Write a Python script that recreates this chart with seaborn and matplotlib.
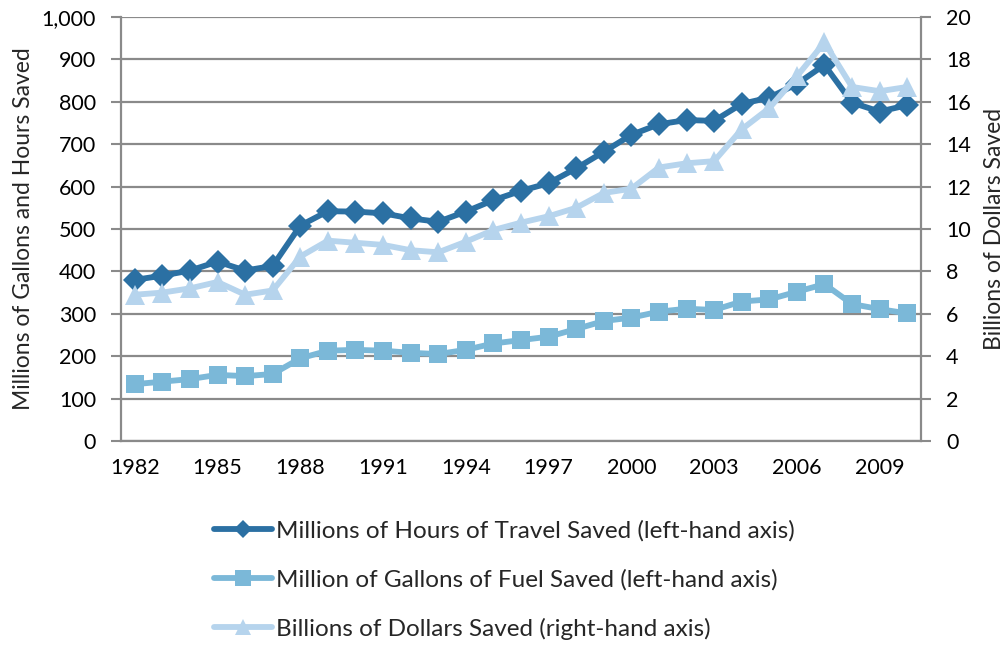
import matplotlib
matplotlib.use("Agg")
import matplotlib.pyplot as plt
import numpy as np
import pandas as pd
import seaborn as sns
from matplotlib.lines import Line2D

years = list(range(1982, 2011))
hours = [380, 390, 402, 423, 402, 413, 508, 542, 541, 537, 525, 517, 541, 568,
         590, 608, 643, 682, 722, 747, 757, 755, 795, 810, 842, 887, 798, 777, 792]
fuel = [134, 140, 146, 156, 153, 158, 195, 213, 215, 213, 208, 205, 215, 230,
        238, 246, 264, 283, 291, 305, 312, 309, 329, 334, 352, 370, 323, 311, 301]
dollars = [6.9, 7.0, 7.2, 7.5, 6.9, 7.1, 8.7, 9.45, 9.35, 9.25, 9.0, 8.9, 9.4, 9.95,
           10.3, 10.6, 11.0, 11.7, 11.9, 12.9, 13.1, 13.2, 14.7, 15.7, 17.2, 18.8,
           16.7, 16.5, 16.7]
series_labels = ["Millions of Hours of Travel Saved (left-hand axis)",
                 "Million of Gallons of Fuel Saved (left-hand axis)",
                 "Billions of Dollars Saved (right-hand axis)"]
left_label = "Millions of Gallons and Hours Saved"
right_label = "Billions of Dollars Saved"

c_hours = "#2B70A3"
c_fuel = "#7BB8D8"
c_dollars = "#B6D4ED"
grid_c = "#8A8A8A"

sns.set_theme(style="white")
plt.rcParams["font.family"] = ["Lato", "DejaVu Sans"]

df = pd.DataFrame({"idx": np.arange(len(years)), "year": years,
                   "hours": hours, "fuel": fuel, "dollars": dollars})

fig = plt.figure(figsize=(10.08, 6.45), dpi=100)
ax = fig.add_axes([121 / 1008, 1 - 441 / 645, 800 / 1008, 424 / 645])
ax2 = ax.twinx()

sns.lineplot(data=df, x="idx", y="hours", ax=ax, color=c_hours, lw=4.2,
             marker="D", markersize=12, markeredgewidth=0, zorder=4)
sns.lineplot(data=df, x="idx", y="fuel", ax=ax, color=c_fuel, lw=4.2,
             marker="s", markersize=13.5, markeredgewidth=0, zorder=3)
sns.lineplot(data=df, x="idx", y="dollars", ax=ax2, color=c_dollars, lw=4.2,
             marker="^", markersize=14, markeredgewidth=0, zorder=3)

ax.set_xlim(-0.5, len(years) - 0.5)
ax.set_ylim(0, 1000)
ax2.set_ylim(0, 20)

ax.set_yticks(np.arange(0, 1001, 100))
ax.set_yticklabels([f"{v:,}" for v in range(0, 1001, 100)])
ax2.set_yticks(np.arange(0, 21, 2))
ax2.set_yticklabels([str(v) for v in range(0, 21, 2)])

fs_tick = 15.5
major = np.arange(0, len(years), 3)
ax.set_xticks(major)
ax.set_xticklabels([str(years[i]) for i in major])
ax.set_xticks(np.arange(-0.5, len(years), 1), minor=True)
ax.tick_params(axis="x", which="major", length=0, pad=12, labelsize=fs_tick, colors="black")
ax.tick_params(axis="x", which="minor", length=6, width=1.5, color=grid_c, direction="out")
ax.tick_params(axis="y", length=7, width=1.5, color=grid_c, pad=11, labelsize=fs_tick, labelcolor="black")
ax2.tick_params(axis="y", length=7, width=1.5, color=grid_c, pad=11, labelsize=fs_tick, labelcolor="black")

ax.grid(axis="y", color=grid_c, lw=1.6)
ax.grid(axis="x", visible=False)
ax.set_axisbelow(True)

for a in (ax, ax2):
    for s in a.spines.values():
        s.set_visible(False)
ax.spines["left"].set_visible(True)
ax.spines["bottom"].set_visible(True)
ax2.spines["right"].set_visible(True)
for s in (ax.spines["left"], ax.spines["bottom"], ax2.spines["right"]):
    s.set_color(grid_c)
    s.set_linewidth(1.6)

ax.set_xlabel("")
ax.set_ylabel(left_label, fontsize=16.5)
ax2.set_ylabel(right_label, fontsize=16.5, rotation=90)
ax.yaxis.set_label_coords((34 - 121) / 800, 0.5)
ax2.yaxis.set_label_coords((984 - 121) / 800, 0.5)

handles = [
    Line2D([], [], color=c_hours, lw=4.2, marker="D", markersize=9, markeredgewidth=0),
    Line2D([], [], color=c_fuel, lw=4.2, marker="s", markersize=11, markeredgewidth=0),
    Line2D([], [], color=c_dollars, lw=4.2, marker="^", markersize=11, markeredgewidth=0),
]
fig.legend(handles, series_labels, loc="upper left",
           bbox_to_anchor=(214 / 1008, 1 - 520 / 645), frameon=False,
           fontsize=17.5, handlelength=2.4, handletextpad=0.15, labelspacing=1.12,
           borderpad=0, borderaxespad=0)

fig.savefig("out.png", dpi=100)
